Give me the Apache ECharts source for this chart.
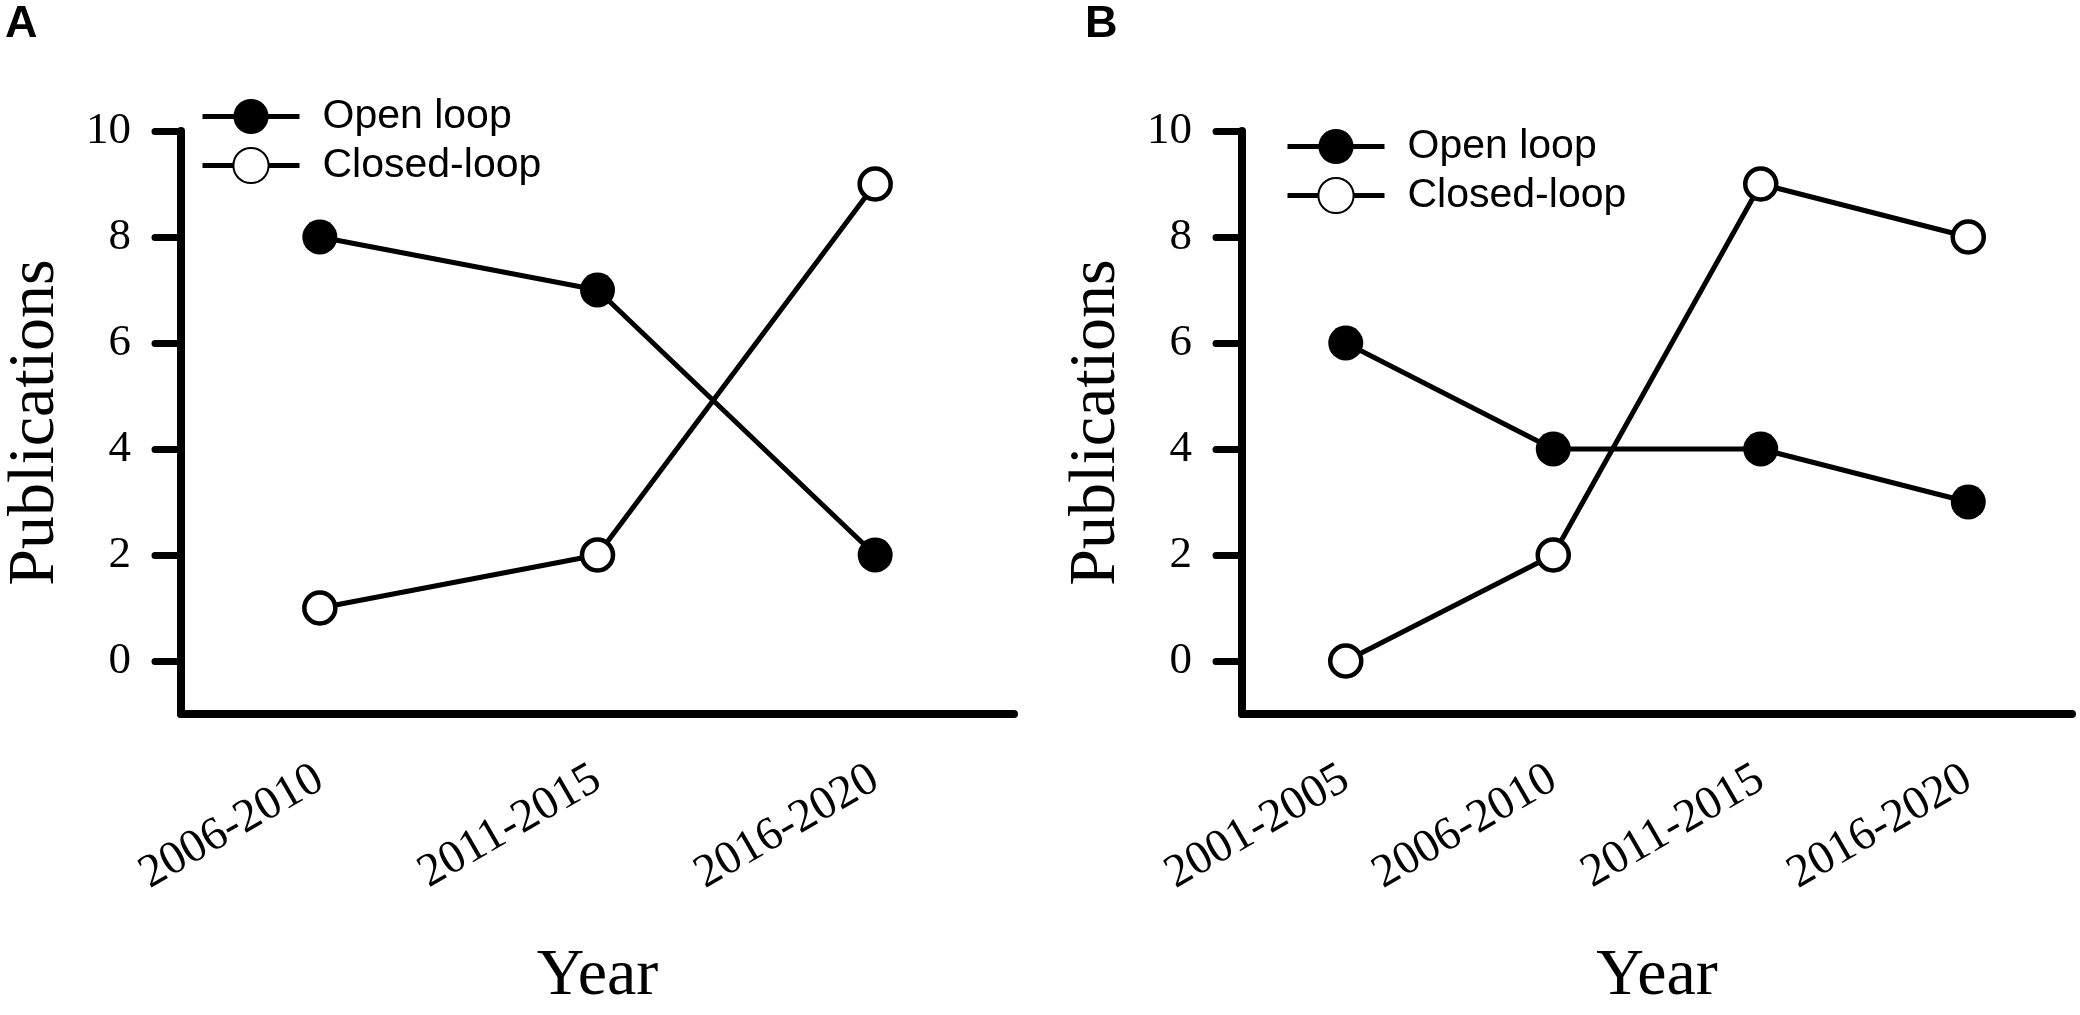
<!DOCTYPE html>
<html>
<head>
<meta charset="utf-8">
<title>Publications</title>
<script src="https://cdn.jsdelivr.net/npm/echarts@6/dist/echarts.min.js"></script>
<style>
  html, body { margin: 0; padding: 0; background: #fff; }
  #main { width: 2080px; height: 1015px; }
</style>
</head>
<body>
<div id="main"></div>
<script>
// 数据
var catsA = ['2006-2010', '2011-2015', '2016-2020'];
var openA = [8, 7, 2];
var closedA = [1, 2, 9];

var catsB = ['2001-2005', '2006-2010', '2011-2015', '2016-2020'];
var openB = [6, 4, 4, 3];
var closedB = [0, 2, 9, 8];

var yTicks = [0, 2, 4, 6, 8, 10];
var legendNames = ['Open loop', 'Closed-loop'];

var serif = 'Liberation Serif';
var sans = 'Liberation Sans';

// 横轴
function makeX(idx, cats) {
    return {
        type: 'category',
        gridIndex: idx,
        data: cats,
        boundaryGap: true,
        name: 'Year',
        nameLocation: 'middle',
        nameGap: 230,
        nameTextStyle: { fontFamily: serif, fontSize: 66, color: '#000' },
        axisLine: { onZero: false, lineStyle: { color: '#000', width: 8, cap: 'round' } },
        axisTick: { alignWithLabel: true, length: 26, lineStyle: { color: '#000', width: 7, cap: 'round' } },
        axisLabel: { rotate: 30, margin: 62, fontFamily: serif, fontSize: 47, color: '#000' },
        splitLine: { show: false }
    };
}

// 纵轴
function makeY(idx) {
    return {
        type: 'value',
        gridIndex: idx,
        min: -1,
        max: 10,
        name: 'Publications',
        nameLocation: 'middle',
        nameGap: 112,
        nameTextStyle: { fontFamily: serif, fontSize: 66, color: '#000' },
        axisLine: { show: true, lineStyle: { color: '#000', width: 8, cap: 'round' } },
        axisTick: { show: true, length: 26, customValues: yTicks, lineStyle: { color: '#000', width: 7, cap: 'round' } },
        axisLabel: { margin: 50, customValues: yTicks, fontFamily: serif, fontSize: 45, color: '#000' },
        splitLine: { show: false }
    };
}

function openSeries(idx, data) {
    return {
        name: 'Open loop',
        type: 'line',
        xAxisIndex: idx,
        yAxisIndex: idx,
        data: data,
        symbol: 'circle',
        symbolSize: 35,
        lineStyle: { color: '#000', width: 5 },
        itemStyle: { color: '#000' },
        emphasis: { disabled: true }
    };
}

function closedSeries(idx, data) {
    return {
        name: 'Closed-loop',
        type: 'line',
        xAxisIndex: idx,
        yAxisIndex: idx,
        data: data,
        symbol: 'circle',
        symbolSize: 31,
        lineStyle: { color: '#000', width: 5 },
        itemStyle: { color: '#fff', borderColor: '#000', borderWidth: 4.5 },
        emphasis: { disabled: true }
    };
}

function makeLegend(left, top) {
    return {
        data: legendNames,
        orient: 'vertical',
        left: left,
        top: top,
        padding: 0,
        itemWidth: 97,
        itemHeight: 44,
        itemGap: 8,
        selectedMode: false,
        lineStyle: { color: '#000', width: 5 },
        textStyle: { fontFamily: sans, fontSize: 41, color: '#000', padding: [0, 0, 0, 18] }
    };
}

var option = {
    backgroundColor: '#fff',
    animation: false,
    title: [
        { text: 'A', left: 5, top: 2, padding: 0, textStyle: { fontFamily: sans, fontSize: 45, fontWeight: 'bold', color: '#000' } },
        { text: 'B', left: 1085, top: 2, padding: 0, textStyle: { fontFamily: sans, fontSize: 45, fontWeight: 'bold', color: '#000' } }
    ],
    legend: [makeLegend(200, 96), makeLegend(1285, 126)],
    grid: [
        { left: 181, top: 131, width: 833, height: 590 },
        { left: 1242, top: 131, width: 830, height: 590 }
    ],
    xAxis: [makeX(0, catsA), makeX(1, catsB)],
    yAxis: [makeY(0), makeY(1)],
    series: [
        openSeries(0, openA),
        closedSeries(0, closedA),
        openSeries(1, openB),
        closedSeries(1, closedB)
    ]
};

var myChart = echarts.init(document.getElementById('main'));
myChart.setOption(option);
</script>
</body>
</html>
